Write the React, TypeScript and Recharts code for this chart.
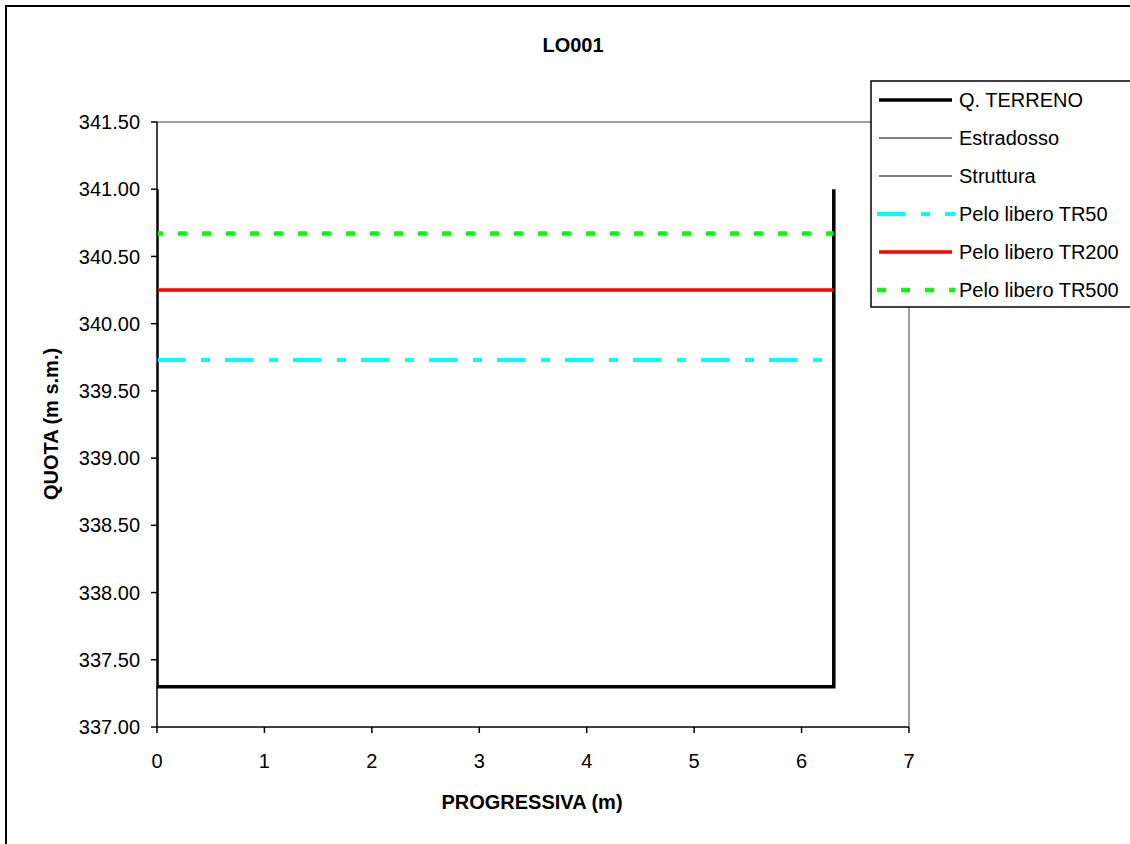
import { LineChart, Line, XAxis, YAxis, ReferenceLine } from 'recharts';

const xTerreno = [0, 0, 6.3, 6.3];
const yTerreno = [341.0, 337.3, 337.3, 341.0];
const xEstradosso: number[] = [];
const yEstradosso: number[] = [];
const xStruttura: number[] = [];
const yStruttura: number[] = [];
const xPelo = [0, 6.3];
const yTR50 = [339.73, 339.73];
const yTR200 = [340.25, 340.25];
const yTR500 = [340.67, 340.67];

const xTicks = [0, 1, 2, 3, 4, 5, 6, 7];
const yTicks = [337.0, 337.5, 338.0, 338.5, 339.0, 339.5, 340.0, 340.5, 341.0, 341.5];

const toPoints = (xs: number[], ys: number[]) => xs.map((x, i) => ({ x, y: ys[i] }));

const series = [
  { name: 'Q. TERRENO', data: toPoints(xTerreno, yTerreno), color: '#000000', width: 3.5, dash: undefined as string | undefined, offset: 0 },
  { name: 'Estradosso', data: toPoints(xEstradosso, yEstradosso), color: '#000000', width: 1, dash: undefined, offset: 0 },
  { name: 'Struttura', data: toPoints(xStruttura, yStruttura), color: '#000000', width: 1, dash: undefined, offset: 0 },
  { name: 'Pelo libero TR50', data: toPoints(xPelo, yTR50), color: '#00FFFF', width: 4, dash: '28 16 9 15', offset: 0 },
  { name: 'Pelo libero TR200', data: toPoints(xPelo, yTR200), color: '#FF0000', width: 3.5, dash: undefined, offset: 0 },
  { name: 'Pelo libero TR500', data: toPoints(xPelo, yTR500), color: '#00FF00', width: 4.5, dash: '9 15', offset: 3 },
];

const FONT = '"Liberation Sans", Arial, sans-serif';

export default function App() {
  return (
    <div
      style={{
        position: 'absolute', left: 0, top: 0, width: 1130, height: 844,
        overflow: 'hidden', background: '#fff', fontFamily: FONT,
      }}
    >
      {/* chart area border, runs off the right and bottom edges */}
      <div style={{ position: 'absolute', left: 5, top: 5, width: 1140, height: 850, border: '2px solid #000' }} />

      <div style={{ position: 'absolute', left: 0, top: 0 }}>
        <LineChart width={1130} height={844} margin={{ top: 122, right: 221, bottom: 27, left: 0 }}>
          <XAxis
            type="number"
            dataKey="x"
            domain={[0, 7]}
            ticks={xTicks}
            allowDataOverflow
            height={90}
            tickSize={6}
            tickMargin={21}
            tick={{ fill: '#000', fontSize: 20 }}
            axisLine={{ stroke: '#000', strokeWidth: 1.5 }}
            tickLine={{ stroke: '#000', strokeWidth: 1.5 }}
          />
          <YAxis
            type="number"
            dataKey="y"
            domain={[337, 341.5]}
            ticks={yTicks}
            allowDataOverflow
            width={157}
            tickSize={6}
            tickMargin={11}
            tickFormatter={(v: number) => v.toFixed(2)}
            tick={{ fill: '#000', fontSize: 20 }}
            axisLine={{ stroke: '#000', strokeWidth: 1.5 }}
            tickLine={{ stroke: '#000', strokeWidth: 1.5 }}
          />
          <ReferenceLine y={341.5} stroke="#808080" strokeWidth={1.5} />
          <ReferenceLine x={7} stroke="#808080" strokeWidth={1.5} />
          {series.map(s => (
            <Line
              key={s.name}
              data={s.data}
              dataKey="y"
              name={s.name}
              type="linear"
              stroke={s.color}
              strokeWidth={s.width}
              strokeDasharray={s.dash}
              strokeDashoffset={s.offset}
              strokeLinejoin="miter"
              dot={false}
              activeDot={false}
              isAnimationActive={false}
            />
          ))}
        </LineChart>
      </div>

      <svg
        width={1130}
        height={844}
        style={{ position: 'absolute', left: 0, top: 0, pointerEvents: 'none', fontFamily: FONT }}
      >
        <text x={573} y={52} textAnchor="middle" fontSize={20} fontWeight="bold" fill="#000">LO001</text>
        <text x={532} y={809} textAnchor="middle" fontSize={20} fontWeight="bold" fill="#000">PROGRESSIVA (m)</text>
        <text transform="translate(58,424) rotate(-90)" textAnchor="middle" fontSize={20} fontWeight="bold" fill="#000">
          QUOTA (m s.m.)
        </text>

        <rect x={871} y={81} width={270} height={226} fill="#fff" stroke="#000" strokeWidth={1.5} />
        {series.map((s, i) => {
          const cy = 100 + i * 38;
          return (
            <g key={s.name}>
              <line
                x1={s.dash ? 877 : 879}
                x2={s.dash ? 955 : 952}
                y1={cy}
                y2={cy}
                stroke={s.color}
                strokeWidth={s.width}
                strokeDasharray={s.dash}
              />
              <text x={959} y={cy + 7} fontSize={20} fill="#000">{s.name}</text>
            </g>
          );
        })}
      </svg>
    </div>
  );
}
